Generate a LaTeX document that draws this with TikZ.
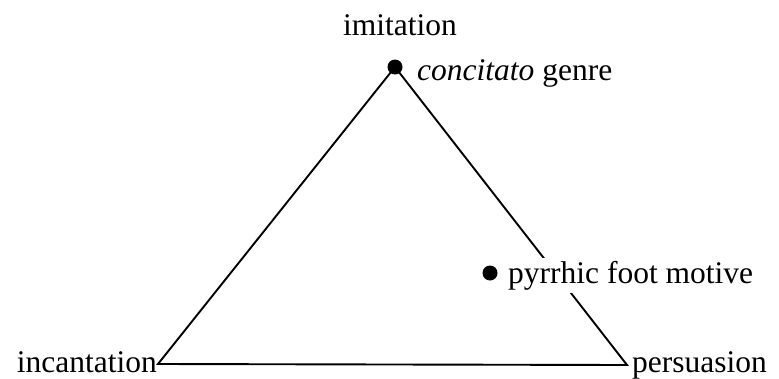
\documentclass[tikz,border=0pt]{standalone}
\usepackage{fontspec}
\setmainfont{Liberation Serif}
\usetikzlibrary{positioning}

\begin{document}
\begin{tikzpicture}[x=1pt, y=-1pt,
  lbl/.style={inner sep=0pt, font=\fontsize{31.5}{38}\selectfont},
  blob/.style={circle, fill=black, inner sep=0pt, minimum size=15pt},
  side/.style={line width=1.9pt}
]
\useasboundingbox (0,0) rectangle (779,378);
\node[blob] (top) at (395,67) {};
\coordinate (left) at (158,364);
\coordinate (right) at (627,365);
\draw[side] (top.center) -- (left) -- (right) -- cycle;
\node[blob] (foot) at (490,273) {};
\node[lbl, anchor=base] (imit) at (400,35) {imitation};
\node[lbl, anchor=base west] (genre) at (417,80) {\textit{concitato} genre};
\node[lbl, anchor=base west, fill=white, inner sep=3pt] (pyrr) at (505,283) {pyrrhic foot motive};
\node[lbl, anchor=base east] (incant) at (157,372) {incantation};
\node[lbl, anchor=base west] (persu) at (632,372) {persuasion};
\end{tikzpicture}
\end{document}
